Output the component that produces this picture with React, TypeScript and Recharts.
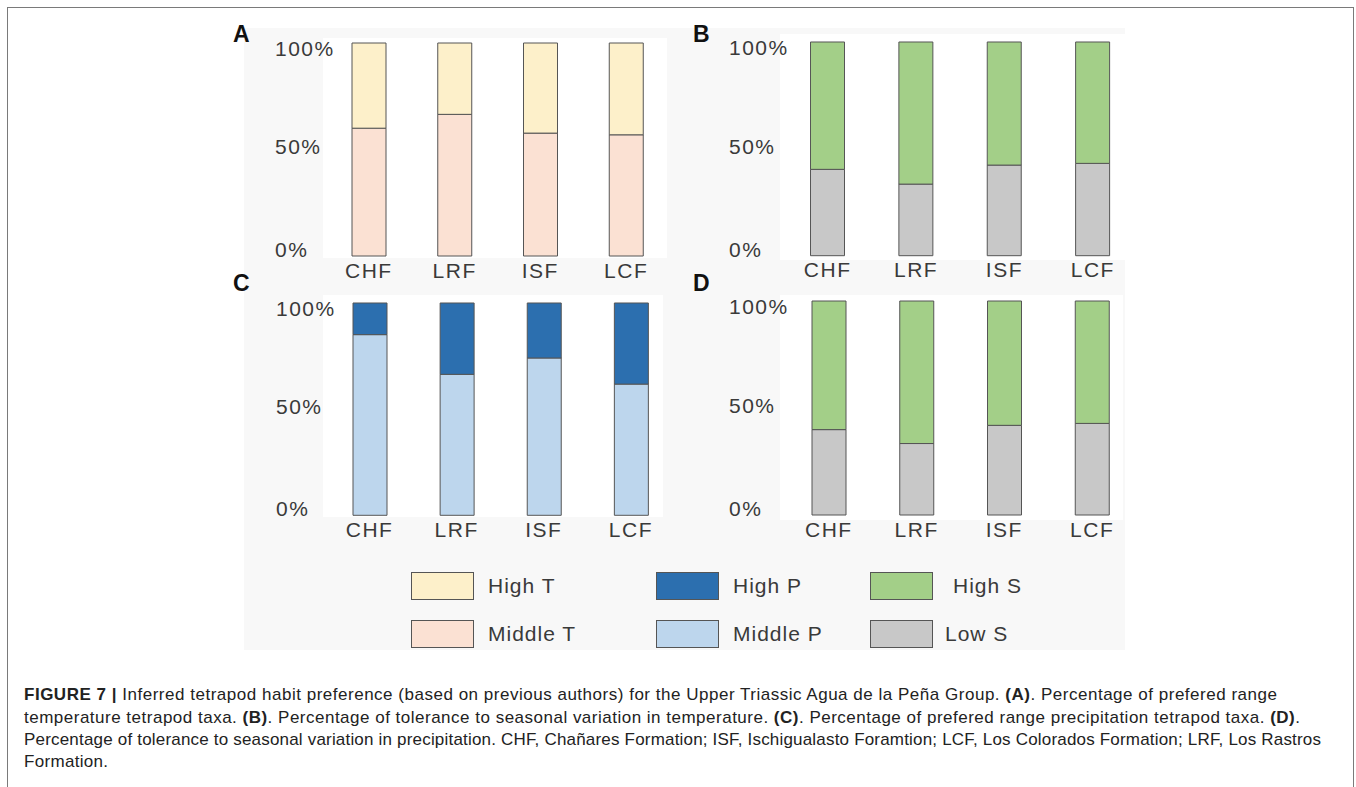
import React from 'react';
import { BarChart, Bar, XAxis, YAxis } from 'recharts';

const categories = ['CHF', 'LRF', 'ISF', 'LCF'];
const yTicks = [0, 50, 100];

// panel A - prefered temperature range
const middleT = [60, 66.5, 57.7, 56.9];
const highT = [40, 33.5, 42.3, 43.1];
// panel B - tolerance to seasonal temperature
const lowSB = [40.4, 33.5, 42.4, 43.2];
const highSB = [59.6, 66.5, 57.6, 56.8];
// panel C - prefered precipitation range
const middleP = [85.1, 66.4, 74.1, 61.8];
const highP = [14.9, 33.6, 25.9, 38.2];
// panel D - tolerance to seasonal precipitation
const lowSD = [39.9, 33.4, 41.9, 42.8];
const highSD = [60.1, 66.6, 58.1, 57.2];

const legendItems = [
  ['High T', 'Middle T'],
  ['High P', 'Middle P'],
  ['High S', 'Low S'],
];

const COLORS: Record<string, string> = {
  'High T': '#fdf0ca',
  'Middle T': '#fbe1d3',
  'High P': '#2c6faf',
  'Middle P': '#bdd6ed',
  'High S': '#a3cf88',
  'Low S': '#c8c8c8',
};

const STROKE = '#555555';
const FONT = '"Liberation Sans", Arial, sans-serif';
const TEXT = '#3a3a3a';

const buildRows = (bottom: number[], top: number[]) =>
  categories.map((name, i) => ({ name, bottom: bottom[i], top: top[i] }));

interface PanelProps {
  letter: string;
  letterX: number;
  letterY: number;
  labelX: number;
  plotLeft: number;
  plotWidth: number;
  plotTop: number;
  plotBottom: number;
  bottom: number[];
  top: number[];
  bottomKey: string;
  topKey: string;
}

const Panel: React.FC<PanelProps> = (p) => {
  const chartLeft = p.labelX - 5;
  const plotH = p.plotBottom - p.plotTop;
  const mTop = 5;
  const axisW = p.plotLeft - chartLeft;
  const width = axisW + p.plotWidth;
  const height = mTop + plotH + 32;

  const YTick = ({ y, payload }: any) => (
    <text x={5} y={y + 1 + payload.value * 0.077} fill={TEXT} fontSize={21} fontFamily={FONT} letterSpacing={1.5} textAnchor="start">
      {payload.value}%
    </text>
  );
  const XTick = ({ x, payload }: any) => (
    <text x={x} y={mTop + plotH + 21.5} fill={TEXT} fontSize={21} fontFamily={FONT} letterSpacing={1.5} textAnchor="middle">
      {payload.value}
    </text>
  );

  return (
    <>
      <div style={{ position: 'absolute', left: p.letterX, top: p.letterY - 20, fontFamily: FONT, fontWeight: 'bold', fontSize: 23, lineHeight: '23px', color: '#111' }}>
        {p.letter}
      </div>
      <div style={{ position: 'absolute', left: chartLeft, top: p.plotTop - mTop }}>
        <BarChart width={width} height={height} data={buildRows(p.bottom, p.top)} margin={{ top: mTop, right: 0, bottom: 0, left: 0 }} barCategoryGap={0}>
          <XAxis dataKey="name" axisLine={false} tickLine={false} height={32} tick={<XTick />} interval={0} />
          <YAxis domain={[0, 100]} ticks={yTicks} width={axisW} axisLine={false} tickLine={false} tick={<YTick />} />
          <Bar dataKey="bottom" stackId="s" barSize={34} fill={COLORS[p.bottomKey]} stroke={STROKE} strokeWidth={1} isAnimationActive={false} />
          <Bar dataKey="top" stackId="s" barSize={34} fill={COLORS[p.topKey]} stroke={STROKE} strokeWidth={1} isAnimationActive={false} />
        </BarChart>
      </div>
    </>
  );
};

const Legend: React.FC = () => {
  const colX = [411, 656, 870];
  const textX = [488, 733, 953];
  const rowY = [572, 620];
  return (
    <svg style={{ position: 'absolute', left: 0, top: 0 }} width={1356} height={787}>
      {legendItems.map((col, ci) =>
        col.map((name, ri) => (
          <g key={name}>
            <rect x={colX[ci] + 0.5} y={rowY[ri] + 0.5} width={62} height={27} fill={COLORS[name]} stroke={STROKE} strokeWidth={1} />
            <text x={textX[ci] - (name === 'Low S' ? 8 : 0)} y={rowY[ri] + 21} fontSize={21} fontFamily={FONT} fill={TEXT} letterSpacing={1}>
              {name}
            </text>
          </g>
        ))
      )}
    </svg>
  );
};

const Caption: React.FC = () => {
  const common = { fontSize: 17, fontFamily: FONT, fill: '#222', lengthAdjust: 'spacing' as const };
  return (
    <svg style={{ position: 'absolute', left: 0, top: 0 }} width={1356} height={787}>
      <text x={24} y={700} textLength={1253} {...common}>
        <tspan fontWeight="bold">FIGURE 7 | </tspan>
        Inferred tetrapod habit preference (based on previous authors) for the Upper Triassic Agua de la Peña Group. <tspan fontWeight="bold">(A)</tspan>. Percentage of prefered range
      </text>
      <text x={24} y={722.5} textLength={1276} {...common}>
        temperature tetrapod taxa. <tspan fontWeight="bold">(B)</tspan>. Percentage of tolerance to seasonal variation in temperature. <tspan fontWeight="bold">(C)</tspan>. Percentage of prefered range precipitation tetrapod taxa. <tspan fontWeight="bold">(D)</tspan>.
      </text>
      <text x={24} y={745} textLength={1297} {...common}>
        Percentage of tolerance to seasonal variation in precipitation. CHF, Chañares Formation; ISF, Ischigualasto Foramtion; LCF, Los Colorados Formation; LRF, Los Rastros
      </text>
      <text x={24} y={767} textLength={84} {...common}>
        Formation.
      </text>
    </svg>
  );
};

export default function App() {
  return (
    <div style={{ position: 'absolute', left: 0, top: 0, width: 1356, height: 787, overflow: 'hidden', background: '#fff' }}>
      {/* frame */}
      <div style={{ position: 'absolute', left: 7, top: 7, width: 1345, height: 800, borderTop: '1.5px solid #7a7a7a', borderLeft: '1.5px solid #7a7a7a', borderRight: '1.5px solid #7a7a7a' }} />
      {/* scanned figure background */}
      <div style={{ position: 'absolute', left: 244, top: 28, width: 881, height: 622, background: '#f8f8f8' }} />
      <div style={{ position: 'absolute', left: 323, top: 38, width: 344, height: 220, background: '#fff' }} />
      <div style={{ position: 'absolute', left: 780, top: 34, width: 346, height: 226, background: '#fff' }} />
      <div style={{ position: 'absolute', left: 323, top: 295, width: 340, height: 222, background: '#fff' }} />
      <div style={{ position: 'absolute', left: 780, top: 295, width: 343, height: 225, background: '#fff' }} />

      <Panel letter="A" letterX={233} letterY={43} labelX={275} plotLeft={326} plotWidth={343} plotTop={43} plotBottom={256}
        bottom={middleT} top={highT} bottomKey="Middle T" topKey="High T" />
      <Panel letter="B" letterX={693} letterY={43} labelX={729} plotLeft={783.5} plotWidth={353.5} plotTop={42.3} plotBottom={256}
        bottom={lowSB} top={highSB} bottomKey="Low S" topKey="High S" />
      <Panel letter="C" letterX={233} letterY={292} labelX={276} plotLeft={326} plotWidth={348.5} plotTop={303} plotBottom={515.3}
        bottom={middleP} top={highP} bottomKey="Middle P" topKey="High P" />
      <Panel letter="D" letterX={693} letterY={292} labelX={729} plotLeft={785} plotWidth={351} plotTop={300.7} plotBottom={514.7}
        bottom={lowSD} top={highSD} bottomKey="Low S" topKey="High S" />

      <Legend />
      <Caption />
    </div>
  );
}
